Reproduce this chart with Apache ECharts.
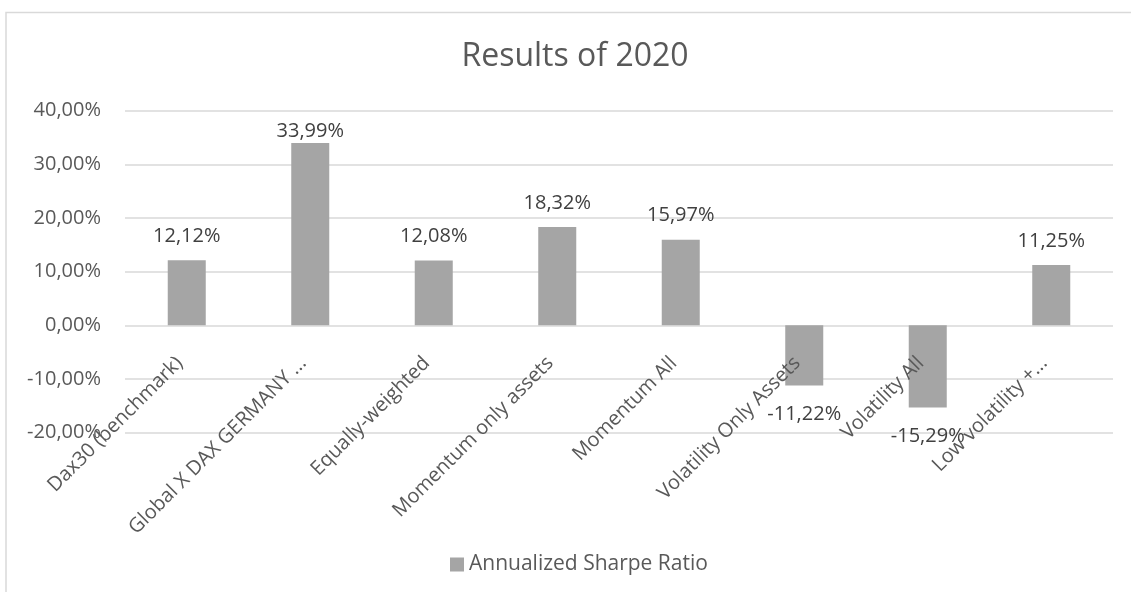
<!DOCTYPE html>
<html>
<head>
<meta charset="utf-8">
<style>
html,body{margin:0;padding:0;background:#fff;}
#chart{width:1131px;height:592px;}
</style>
<script src="https://cdn.jsdelivr.net/npm/echarts@6/dist/echarts.min.js"></script>
</head>
<body>
<div id="chart"></div>
<script>
const titleText = "Results of 2020";
const seriesName = "Annualized Sharpe Ratio";
const categories = [
  "Dax30 (benchmark)",
  "Global X DAX GERMANY ...",
  "Equally-weighted",
  "Momentum only assets",
  "Momentum All",
  "Volatility Only Assets",
  "Volatility All",
  "Low volatility +..."
];
const values = [0.1212, 0.3399, 0.1208, 0.1832, 0.1597, -0.1122, -0.1529, 0.1125];
const yMin = -0.2, yMax = 0.4, yStep = 0.1;

function pct(v){ return (v*100).toFixed(2).replace('.', ',') + '%'; }

const FONT = '"Open Sans", "Noto Sans", sans-serif';
const chart = echarts.init(document.getElementById('chart'), null, {renderer:'canvas'});
chart.setOption({
  backgroundColor: '#ffffff',
  animation: false,
  textStyle: {fontFamily: FONT},
  title: {
    text: titleText,
    left: 570, top: 36, textAlign: 'center',
    textStyle: {fontFamily: FONT, fontSize: 32, fontWeight: 'normal', color: '#595959'}
  },
  legend: {
    data: [seriesName],
    left: 445, top: 549,
    icon: 'rect', itemWidth: 14, itemHeight: 14, itemGap: 6,
    textStyle: {fontFamily: FONT, fontSize: 21, color: '#595959'}
  },
  grid: {left: 125, right: 18, top: 110.7, bottom: 159.3, containLabel: false, outerBoundsMode: 'none'},
  xAxis: {
    type: 'category',
    data: categories,
    offset: -107.7,
    z: 5,
    axisLine: {show: false, onZero: false},
    axisTick: {show: false},
    axisLabel: {rotate: 45, margin: 28, padding: [0, 10, 0, 0], interval: 0, fontFamily: FONT, fontSize: 20, color: '#595959'}
  },
  yAxis: {
    type: 'value',
    min: yMin, max: yMax, interval: yStep,
    axisLine: {show: false}, axisTick: {show: false},
    axisLabel: {formatter: pct, margin: 24, fontFamily: FONT, fontSize: 20, color: '#595959'},
    splitLine: {lineStyle: {color: '#d9d9d9', width: 1.5}}
  },
  series: [{
    name: seriesName,
    type: 'bar',
    barWidth: 38,
    z: 2,
    itemStyle: {color: '#a5a5a5'},
    data: values.map(v => ({
      value: v,
      label: {
        position: v < 0 ? 'bottom' : 'top',
        distance: v < 0 ? 19 : ((yMax - v) < 0.08 ? 2 : 14)
      }
    })),
    label: {
      show: true,
      formatter: p => pct(p.value),
      fontFamily: FONT, fontSize: 20, color: '#404040'
    }
  }],
  graphic: [{
    type: 'rect',
    shape: {x: 6, y: 12.5, width: 1300, height: 800},
    style: {fill: 'none', stroke: '#d9d9d9', lineWidth: 1.5},
    silent: true, z: -10
  }]
});
</script>
</body>
</html>
